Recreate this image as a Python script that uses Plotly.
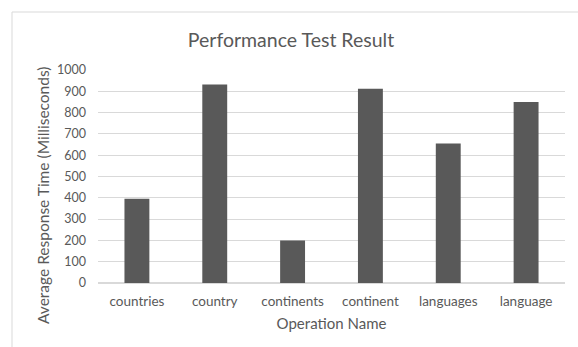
import plotly.graph_objects as go

categories = ["countries", "country", "continents", "continent", "languages", "language"]
response_ms = [395, 932, 200, 912, 655, 850]
y_ticks = [0, 100, 200, 300, 400, 500, 600, 700, 800, 900, 1000]

W, H = 578, 347
ml, mr, mt, mb = 98, 13, 70, 64
pw = W - ml - mr
ph = H - mt - mb
FONT = "Lato"
GREY = "#595959"

fig = go.Figure(go.Bar(x=categories, y=response_ms, marker=dict(color=GREY, line=dict(width=0)),
                       width=0.32))

fig.update_layout(
    width=W, height=H,
    margin=dict(l=ml, r=mr, t=mt, b=mb),
    paper_bgcolor="white", plot_bgcolor="white",
    font=dict(family=FONT, color=GREY, size=12),
    showlegend=False,
    title=dict(text="Performance Test Result", x=291 / W, xanchor="center",
               y=1 - 40 / H, yanchor="middle", font=dict(size=19.5, color=GREY, family=FONT)),
    xaxis=dict(showline=False, ticks="", tickfont=dict(size=13.5, color=GREY), ticklabelstandoff=8,
               title=dict(text="Operation Name", font=dict(size=15, color=GREY), standoff=10)),
    yaxis=dict(range=[0, 1000], tickvals=y_ticks, showgrid=True, gridcolor="#d9d9d9", gridwidth=1,
               zeroline=True, zerolinecolor="#d9d9d9", showline=False, ticks="",
               tickfont=dict(size=12.5, color=GREY), ticklabelstandoff=11),
)

fig.add_annotation(text="Average Response Time (Milliseconds)", xref="paper", yref="paper",
                   x=(43 - ml) / pw, y=1 - (196 - mt) / ph, xanchor="center", yanchor="middle",
                   textangle=-90, showarrow=False, font=dict(size=15.5, color=GREY, family=FONT))

# outer chart border (left/top visible, right/bottom cropped)
fig.add_shape(type="rect", xref="paper", yref="paper",
              x0=(12 - ml) / pw, x1=(W + 5 - ml) / pw,
              y0=-(H + 5 - mt - ph) / ph, y1=1 + (mt - 12) / ph,
              line=dict(color="#d9d9d9", width=1), fillcolor="rgba(0,0,0,0)", layer="below")

fig.write_html("out.html")
